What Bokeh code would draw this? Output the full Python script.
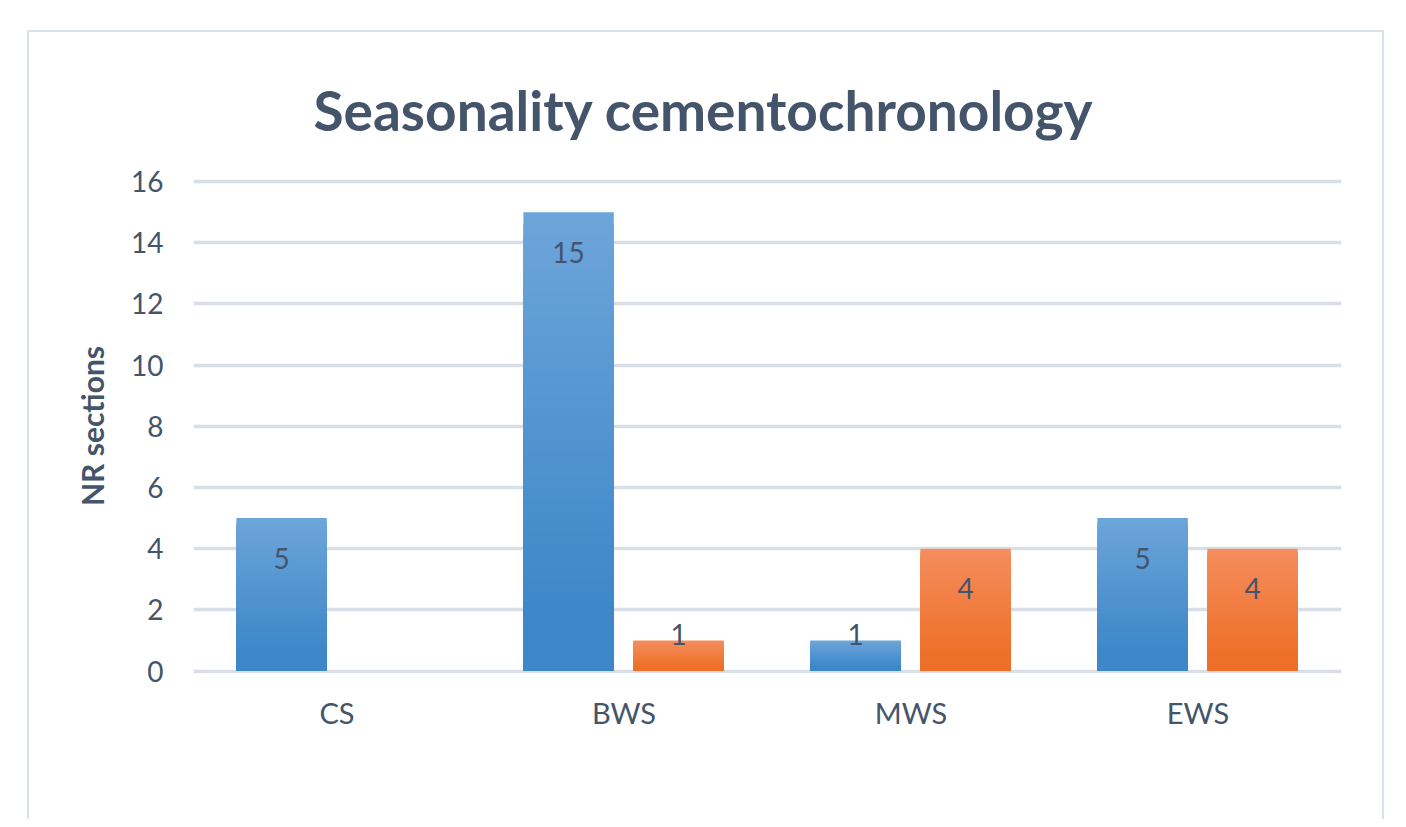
from bokeh.plotting import figure
from bokeh.models import FactorRange, Range1d, Legend, LegendItem, ColumnDataSource
from bokeh.transform import dodge
from bokeh.core.properties import value
from bokeh.embed import file_html
from bokeh.resources import INLINE

categories = ["CS", "BWS", "MWS", "EWS"]
series_names = ["Lazaret UA29", "Canalettes c.4"]
lazaret = [5, 15, 1, 5]
canalettes = [0, 1, 4, 4]
y_ticks = [0, 2, 4, 6, 8, 10, 12, 14, 16]

TEXT = "#44546A"
FONT = "Lato"
GRID = "#D9DFE7"
EDGE = "2px solid #D9E1EA"

p = figure(
    x_range=FactorRange(*categories, range_padding=0),
    y_range=Range1d(-0.08, 16.1),
    frame_width=1148, frame_height=495,
    output_backend="svg", toolbar_location=None,
    min_border_left=164, min_border_right=41,
    min_border_top=146, min_border_bottom=146,
    background_fill_color="white", border_fill_color="white",
    outline_line_color=None,
)
p.margin = (30, 0, 0, 27)
p.styles = {"border-left": EDGE, "border-top": EDGE, "border-right": EDGE}

p.title.text = "Seasonality  cementochronology"
p.title.align = "left"
p.title.offset = 120
p.title.text_font = FONT
p.title.text_font_style = "bold"
p.title.text_font_size = "55px"
p.title.text_color = TEXT
p.title.standoff = 72

def hex2rgb(h):
    h = h.lstrip("#")
    return tuple(int(h[i:i + 2], 16) for i in (0, 2, 4))

def mix(c1, c2, t):
    a, b = hex2rgb(c1), hex2rgb(c2)
    return "#%02x%02x%02x" % tuple(round(a[i] + (b[i] - a[i]) * t) for i in range(3))

series = [
    (lazaret, -0.193, "#6CA5DA", "#3E87C8", "#5B9BD5"),
    (canalettes, 0.19, "#F58D5E", "#EE7028", "#F07B3C"),
]
BAR_W = 0.315
N = 40
legend_items = []
for (vals, off, top_c, bot_c, mid_c), name in zip(series, series_names):
    for k in range(N, 0, -1):
        frac = k / N
        t = min(1.0, (1 - frac) / 0.85)
        src = ColumnDataSource(dict(cat=categories, top=[v * frac for v in vals]))
        p.vbar(x=dodge("cat", off, range=p.x_range), top="top", bottom=0, width=BAR_W,
               source=src, fill_color=mix(top_c, bot_c, t), line_color=None)
    r = p.vbar(x=dodge("cat", off, range=p.x_range), top=0, bottom=0, width=BAR_W,
               source=ColumnDataSource(dict(cat=categories)),
               fill_color=mid_c, line_color=None)
    legend_items.append(LegendItem(label=name, renderers=[r]))
    lab_src = ColumnDataSource(dict(
        cat=[c for c, v in zip(categories, vals) if v > 0],
        y=[max(v - 1.31, 1.18) for v in vals if v > 0],
        txt=[str(v) for v in vals if v > 0],
    ))
    p.text(x=dodge("cat", off, range=p.x_range), y="y", text="txt", source=lab_src,
           text_align="center", text_baseline="middle", text_font=value(FONT),
           text_font_size="28px", text_color=TEXT)

p.xgrid.grid_line_color = None
p.ygrid.grid_line_color = GRID
p.ygrid.grid_line_width = 3.5
p.yaxis.ticker = y_ticks
p.yaxis.axis_line_color = None
p.yaxis.major_tick_line_color = None
p.yaxis.minor_tick_line_color = None
p.yaxis.major_tick_out = 0
p.yaxis.major_label_standoff = 30
p.yaxis.major_label_text_font = FONT
p.yaxis.major_label_text_font_size = "28px"
p.yaxis.major_label_text_color = TEXT
p.yaxis.axis_label = "NR sections"
p.yaxis.axis_label_text_font = FONT
p.yaxis.axis_label_text_font_style = "bold"
p.yaxis.axis_label_text_font_size = "30px"
p.yaxis.axis_label_text_color = TEXT
p.yaxis.axis_label_standoff = 18

p.xaxis.axis_line_color = None
p.xaxis.major_tick_line_color = None
p.xaxis.major_tick_out = 0
p.xaxis.major_label_standoff = 21
p.xaxis.major_label_text_font = FONT
p.xaxis.major_label_text_font_size = "29px"
p.xaxis.major_label_text_color = TEXT

legend = Legend(items=legend_items, orientation="horizontal", location=(284, -135),
                glyph_width=18, glyph_height=18, label_standoff=12, spacing=37,
                padding=0, margin=0, border_line_color=None, background_fill_alpha=0,
                label_text_font=FONT, label_text_font_size="30.5px", label_text_color=TEXT)
p.add_layout(legend, "center")

open("out.html", "w").write(file_html(p, INLINE))
